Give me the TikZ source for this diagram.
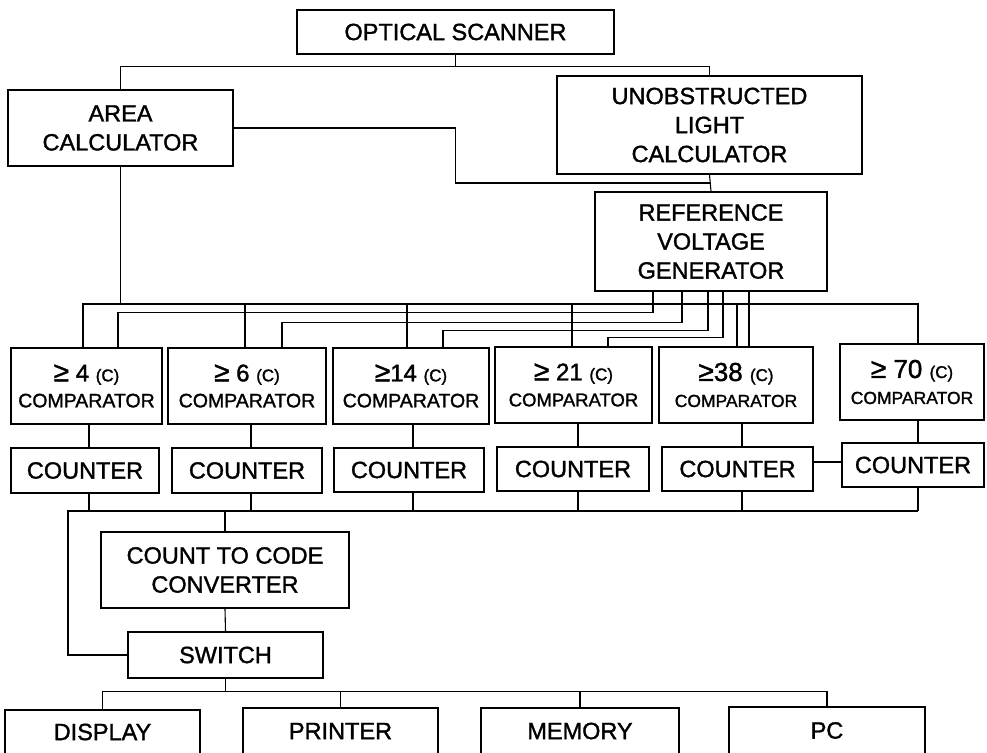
\documentclass[tikz,border=0pt]{standalone}
\usepackage{fontspec}
\setmainfont{Liberation Sans}[FakeBold=1.4]
\newcommand\cmphead[2][24]{{\fontsize{28}{26}\selectfont ≥}{\fontsize{#1}{26}\selectfont #2 {\fontsize{17}{26}\selectfont(C)}}}
\tikzset{
  box/.style={draw, line width=1.5pt, inner sep=0pt, align=center, font=\fontsize{23.5}{29}\selectfont},
  cmp/.style={box, font=\fontsize{19.5}{26}\selectfont},
  cmpnarrow/.style={box, font=\fontsize{17.5}{26}\selectfont},
  wire/.style={line width=1.1pt},
}
\begin{document}
\begin{tikzpicture}[x=1pt,y=-1pt]
\useasboundingbox (0,0) rectangle (987,752);
\clip (0,0) rectangle (987,752);

% top blocks
\node[box,minimum width=317pt,minimum height=44pt] (os) at (455.5,32) {OPTICAL SCANNER};
\node[box,minimum width=225pt,minimum height=76pt] (area) at (120.5,128) {AREA\\CALCULATOR};
\node[box,minimum width=305pt,minimum height=98pt] (ul) at (709.5,125) {UNOBSTRUCTED\\LIGHT\\CALCULATOR};
\node[box,minimum width=232pt,minimum height=99pt] (rvg) at (711,241.5) {REFERENCE\\VOLTAGE\\GENERATOR};

% comparators
\node[cmp,minimum width=151pt,minimum height=76pt] (c1) at (86.5,386) {\cmphead{ 4}\\COMPARATOR};
\node[cmp,minimum width=158pt,minimum height=76pt] (c2) at (247,386) {\cmphead{ 6}\\COMPARATOR};
\node[cmp,minimum width=156pt,minimum height=76pt] (c3) at (411,386) {\cmphead{14}\\COMPARATOR};
\node[box,font=\fontsize{18.5}{26}\selectfont,minimum width=157pt,minimum height=76pt] (c4) at (573.5,385) {\cmphead{ 21}\\COMPARATOR};
\node[cmpnarrow,minimum width=154pt,minimum height=76pt] (c5) at (736,385) {\cmphead[26]{38}\\COMPARATOR};
\node[cmpnarrow,minimum width=144pt,minimum height=76pt] (c6) at (912,382) {\cmphead[26]{ 70}\\COMPARATOR};

% counters
\node[box,minimum width=148pt,minimum height=45pt] (k1) at (85,470.5) {COUNTER};
\node[box,minimum width=150pt,minimum height=45pt] (k2) at (247,470.5) {COUNTER};
\node[box,minimum width=150pt,minimum height=44pt] (k3) at (409,470) {COUNTER};
\node[box,minimum width=152pt,minimum height=44pt] (k4) at (573,469) {COUNTER};
\node[box,minimum width=151pt,minimum height=44pt] (k5) at (737.5,469) {COUNTER};
\node[box,minimum width=142pt,minimum height=44pt] (k6) at (913,465) {COUNTER};

% lower blocks
\node[box,minimum width=248pt,minimum height=76pt] (ctc) at (225,570) {COUNT TO CODE\\CONVERTER};
\node[box,minimum width=195pt,minimum height=46pt] (sw) at (225.5,655) {SWITCH};
\node[box,minimum width=195pt,minimum height=44pt] (disp) at (102.5,732) {DISPLAY};
\node[box,minimum width=195pt,minimum height=46pt] (prn) at (340.5,731) {PRINTER};
\node[box,minimum width=198pt,minimum height=46pt] (mem) at (580,731) {MEMORY};
\node[box,minimum width=196pt,minimum height=47pt] (pc) at (827,730.5) {PC};

% scanner fan-out
\draw[wire] (os.south) -- ++(0,12) coordinate (j1);
\draw[wire] (area.north) |- (j1) -| (ul.north);
\draw[wire] (ul.south) -- coordinate (m) (rvg.north);
\draw[wire] (area.east) -| (os.south |- m) -- (m);

% bus levels
\coordinate (busA) at (0,304);
\coordinate (busB) at (0,511);

% comparator inputs
\coordinate (c1a) at ([xshift=-3.5pt]c1.north);
\coordinate (c1b) at ([xshift=31.5pt]c1.north);
\coordinate (c2a) at ([xshift=-2pt]c2.north);
\coordinate (c2b) at ([xshift=35pt]c2.north);
\coordinate (c3a) at ([xshift=-4pt]c3.north);
\coordinate (c3b) at ([xshift=32pt]c3.north);
\coordinate (c4a) at ([xshift=-1.5pt]c4.north);
\coordinate (c4b) at ([xshift=34.5pt]c4.north);
\coordinate (c5a) at ([xshift=1pt]c5.north);
\coordinate (c5b) at ([xshift=13pt]c5.north);
\coordinate (c6a) at ([xshift=6pt]c6.north);

\draw[wire] (area.south) -- (area.south |- busA);
\draw[wire] (c1a) |- (c6a |- busA) -- (c6a);
\foreach \c in {c2a,c3a,c4a,c5a} \draw[wire] (\c) -- (\c |- busA);

% reference voltage outputs
\coordinate (r1) at ([xshift=-58pt]rvg.south);
\coordinate (r2) at ([xshift=-29pt]rvg.south);
\coordinate (r3) at ([xshift=-3pt]rvg.south);
\coordinate (r4) at ([xshift=12pt]rvg.south);
\coordinate (r5) at ([xshift=38pt]rvg.south);
\draw[wire] (r1) -- ++(0,21) -| (c1b);
\draw[wire] (r2) -- ++(0,31) -| (c2b);
\draw[wire] (r3) -- ++(0,39) -| (c3b);
\draw[wire] (r4) -- ++(0,46) -| (c4b);
\draw[wire] (r5) -- (c5b);

% comparator -> counter -> bus
\coordinate (l1) at ([xshift=2.5pt]c1.south);
\coordinate (l2) at ([xshift=4pt]c2.south);
\coordinate (l3) at ([xshift=2pt]c3.south);
\coordinate (l4) at ([xshift=4.5pt]c4.south);
\coordinate (l5) at ([xshift=6pt]c5.south);
\coordinate (l6) at ([xshift=6pt]c6.south);
\foreach \i in {1,...,6}{
  \draw[wire] (l\i) -- (l\i |- k\i.north);
  \draw[wire] (l\i |- k\i.south) -- (l\i |- busB);
}
\draw[wire] ([yshift=7pt]k5.east) -- ([yshift=7pt]k5.east -| k6.west);

\coordinate (bl) at (68,511);
\draw[wire] (sw.west) -| (bl) -- (l6 |- busB);
\draw[wire] (ctc.north |- busB) -- (ctc.north);
\draw[wire] (ctc.south) -- (sw.north);
\draw[wire] (sw.south) -- ++(0,13) coordinate (j3);
\draw[wire] (disp.north) |- (j3) -| (pc.north);
\draw[wire] (prn.north) -- (prn.north |- j3);
\draw[wire] (mem.north) -- (mem.north |- j3);
\end{tikzpicture}
\end{document}
